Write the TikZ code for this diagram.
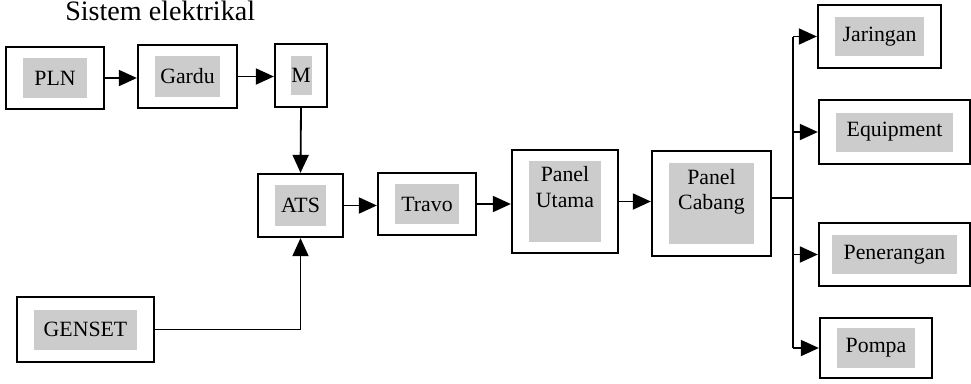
\documentclass[tikz,border=0pt]{standalone}
\usepackage{fontspec}
\setmainfont{Liberation Serif}
\usepackage{tikz}
\usetikzlibrary{arrows.meta,positioning,calc}

\begin{document}
\begin{tikzpicture}[x=0.025cm,y=-0.025cm,
  kotak/.style={draw, line width=1.6pt, inner sep=0pt},
  isi/.style={fill=gray!40, inner sep=0pt, font=\fontsize{15.5}{18}\selectfont},
  panah/.style={line width=1.3pt, -{Triangle[length=0.45cm,width=0.4cm]}},
  garis/.style={line width=1.3pt}]
\useasboundingbox (0,0) rectangle (971,383);

% judul
\node[anchor=base west, inner sep=0pt, font=\fontsize{20}{24}\selectfont] (judul) at (65,20) {Sistem elektrikal};

% sumber listrik
\node[kotak, minimum width=2.45cm, minimum height=1.55cm] (pln) at (55,78) {};
\node[isi, minimum width=1.6cm, minimum height=1cm] (pln-t) at (pln) {PLN};

\node[kotak, minimum width=2.475cm, minimum height=1.575cm] (gardu) at (187.5,76.5) {};
\node[isi, minimum width=1.625cm, minimum height=1.025cm] (gardu-t) at (gardu) {Gardu};

\node[kotak, minimum width=1.3cm, minimum height=1.575cm] (m) at (301,75.5) {};
\node[isi, minimum width=0.525cm, minimum height=0.975cm] (m-t) at (m) {M};

\node[kotak, minimum width=3.425cm, minimum height=1.625cm] (genset) at (85.5,329.5) {};
\node[isi, minimum width=2.55cm, minimum height=1cm] (genset-t) at (genset) {GENSET};

% jalur utama
\node[kotak, minimum width=2.125cm, minimum height=1.575cm] (ats) at (300.5,205.5) {};
\node[isi, minimum width=1.25cm, minimum height=1.025cm] (ats-t) at (ats) {ATS};

\node[kotak, minimum width=2.45cm, minimum height=1.55cm] (travo) at (427,204) {};
\node[isi, minimum width=1.575cm, minimum height=1cm] (travo-t) at (travo) {Travo};

\node[kotak, minimum width=2.65cm, minimum height=2.575cm] (utama) at (565,201.5) {};
\node[isi, minimum width=1.8cm, minimum height=2.025cm] (utama-t) at (utama) {};
\node[isi, fill=none, align=center, below=4pt of utama-t.north] (utama-l) {Panel\\Utama};

\node[kotak, minimum width=2.975cm, minimum height=2.625cm] (cabang) at (711.5,203.5) {};
\node[isi, minimum width=2.125cm, minimum height=2cm] (cabang-t) at (cabang) {};
\node[isi, fill=none, align=center, below=4pt of cabang-t.north] (cabang-l) {Panel\\Cabang};

% beban
\node[kotak, minimum width=3.075cm, minimum height=1.575cm] (jaringan) at (879.5,36.5) {};
\node[isi, minimum width=2.225cm, minimum height=0.975cm] (jaringan-t) at (jaringan) {Jaringan};

\node[kotak, minimum width=3.775cm, minimum height=1.6cm] (equipment) at (894.5,132) {};
\node[isi, minimum width=2.9cm, minimum height=0.975cm] (equipment-t) at (equipment) {Equipment};

\node[kotak, minimum width=3.775cm, minimum height=1.575cm] (penerangan) at (894.5,254.5) {};
\node[isi, minimum width=3.125cm, minimum height=0.975cm] (penerangan-t) at (penerangan) {Penerangan};

\node[kotak, minimum width=2.8cm, minimum height=1.5cm] (pompa) at (876,348) {};
\node[isi, minimum width=1.95cm, minimum height=1cm] (pompa-t) at (pompa) {Pompa};

% sambungan
\draw[panah] (pln.east) -- (pln.east -| gardu.west);
\draw[panah] (gardu.east) -- (gardu.east -| m.west);
\draw[panah] (m.south) -- (ats.north);
\draw[panah] (genset.east) -| (ats.south);
\draw[panah] (ats.east) -- (ats.east -| travo.west);
\draw[panah] (travo.east) -- (travo.east -| utama.west);
\draw[panah] (utama.east) -- (utama.east -| cabang.west);

\coordinate (bus) at (793,198);
\draw[garis] (cabang.east |- bus) -- (bus);
\draw[garis] (bus |- jaringan.west) -- (bus |- pompa.west);
\foreach \b in {jaringan,equipment,penerangan,pompa}
  \draw[panah] (bus |- \b.west) -- (\b.west);

\end{tikzpicture}
\end{document}
